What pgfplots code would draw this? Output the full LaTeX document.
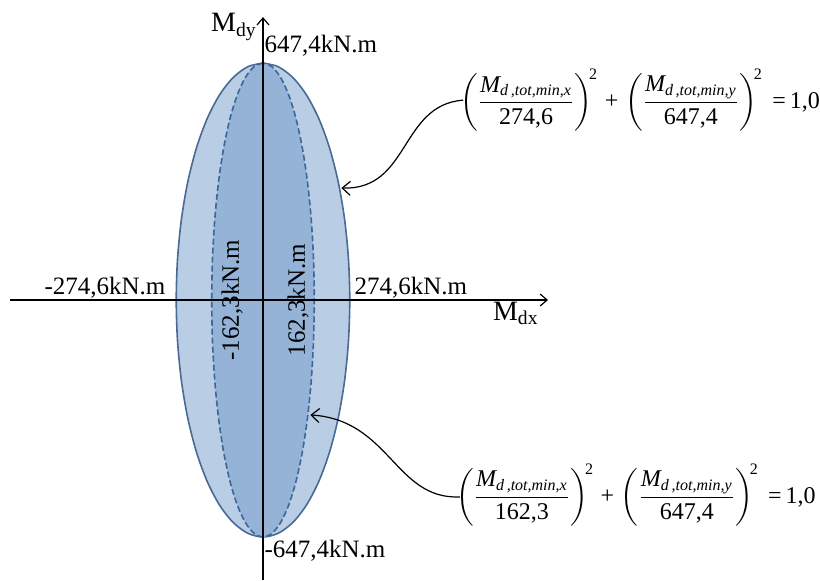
\documentclass[border=0pt]{standalone}
\usepackage{amsmath}
\usepackage{fontspec}
\setmainfont{Liberation Serif}
\usepackage{pgfplots}
\pgfplotsset{compat=1.18}
\usetikzlibrary{arrows.meta}
\definecolor{outerfill}{HTML}{B9CDE5}
\definecolor{innerfill}{HTML}{95B3D7}
\definecolor{outerline}{HTML}{4A6A94}
\definecolor{innerline}{HTML}{3D6699}
\tikzset{lbl/.style={font=\fontsize{12.5}{14}\selectfont, inner sep=0pt}}
\newcommand{\Md}[1]{\text{\itshape M}_{\text{\itshape d\,,tot,min,#1}}}
\newcommand{\eqn}[2]{$\displaystyle \left(\frac{\Md{x}}{\text{#1}}\right)^{\!\text{2}}\mkern2mu\text{+}\mkern2mu\left(\frac{\Md{y}}{\text{#2}}\right)^{\!\text{2}}\mkern4mu\text{=}\mkern3mu\text{1,0}$}
\begin{document}
\begin{tikzpicture}
\useasboundingbox (-131.5pt,-140pt) rectangle (278.5pt,150pt);
\begin{axis}[
  anchor=origin, at={(0pt,0pt)},
  x=0.158pt, y=0.183pt,
  xmin=-800, xmax=902, ymin=-765, ymax=773,
  axis lines=middle, ticks=none,
  axis line style={-{Straight Barb[length=3.5pt,width=6pt]}, black, line width=0.6pt},
  clip=false, axis on top,
]
% outer ellipse: Mx = 274.6, My = 647.4
\addplot[fill=outerfill, draw=outerline, line width=0.8pt, smooth] coordinates {
(0,647.4) (-47.68,637.57) (-93.92,608.35) (-137.3,560.67) (-176.51,495.93) (-210.36,416.14)
(-237.81,323.7) (-258.04,221.42) (-270.43,112.42) (-274.6,0) (-270.43,-112.42) (-258.04,-221.42)
(-237.81,-323.7) (-210.36,-416.14) (-176.51,-495.93) (-137.3,-560.67) (-93.92,-608.35) (-47.68,-637.57)
(0,-647.4) (47.68,-637.57) (93.92,-608.35) (137.3,-560.67) (176.51,-495.93) (210.36,-416.14)
(237.81,-323.7) (258.04,-221.42) (270.43,-112.42) (274.6,0) (270.43,112.42) (258.04,221.42)
(237.81,323.7) (210.36,416.14) (176.51,495.93) (137.3,560.67) (93.92,608.35) (47.68,637.57) (0,647.4)
};
% inner ellipse: Mx = 162.3, My = 647.4
\addplot[fill=innerfill, draw=innerline, dash pattern=on 3pt off 1.5pt, line width=0.8pt, smooth] coordinates {
(0,647.4) (-28.18,637.57) (-55.51,608.35) (-81.15,560.67) (-104.32,495.93) (-124.33,416.14)
(-140.56,323.7) (-152.51,221.42) (-159.83,112.42) (-162.3,0) (-159.83,-112.42) (-152.51,-221.42)
(-140.56,-323.7) (-124.33,-416.14) (-104.32,-495.93) (-81.15,-560.67) (-55.51,-608.35) (-28.18,-637.57)
(0,-647.4) (28.18,-637.57) (55.51,-608.35) (81.15,-560.67) (104.32,-495.93) (124.33,-416.14)
(140.56,-323.7) (152.51,-221.42) (159.83,-112.42) (162.3,0) (159.83,112.42) (152.51,221.42)
(140.56,323.7) (124.33,416.14) (104.32,495.93) (81.15,560.67) (55.51,608.35) (28.18,637.57) (0,647.4)
};
\node[lbl] at (axis cs:183,694) {647,4kN.m};
\node[lbl] at (axis cs:196,-686) {-647,4kN.m};
\node[lbl] at (axis cs:-500,33) {-274,6kN.m};
\node[lbl] at (axis cs:468,33) {274,6kN.m};
\node[lbl, rotate=90] at (axis cs:-98,0) {-162,3kN.m};
\node[lbl, rotate=90] at (axis cs:111,0) {162,3kN.m};
\node[lbl] at (axis cs:-92,746) {\fontsize{14}{16}\selectfont M\textsubscript{dy}};
\node[lbl] at (axis cs:800,-36) {\fontsize{14}{16}\selectfont M\textsubscript{dx}};
\node[font=\fontsize{12}{14}\selectfont, inner sep=0pt] at (axis cs:1193,546) {\eqn{274,6}{647,4}};
\node[font=\fontsize{12}{14}\selectfont, inner sep=0pt] at (axis cs:1180,-533) {\eqn{162,3}{647,4}};
\draw[-{Straight Barb[length=4pt,width=7pt]}, line width=0.6pt]
  (axis cs:633,546) .. controls (axis cs:433,533) and (axis cs:465,300) .. (axis cs:248,306);
\draw[-{Straight Barb[length=4pt,width=7pt]}, line width=0.6pt]
  (axis cs:623,-538) .. controls (axis cs:418,-546) and (axis cs:402,-328) .. (axis cs:150,-314);
\end{axis}
\end{tikzpicture}
\end{document}
